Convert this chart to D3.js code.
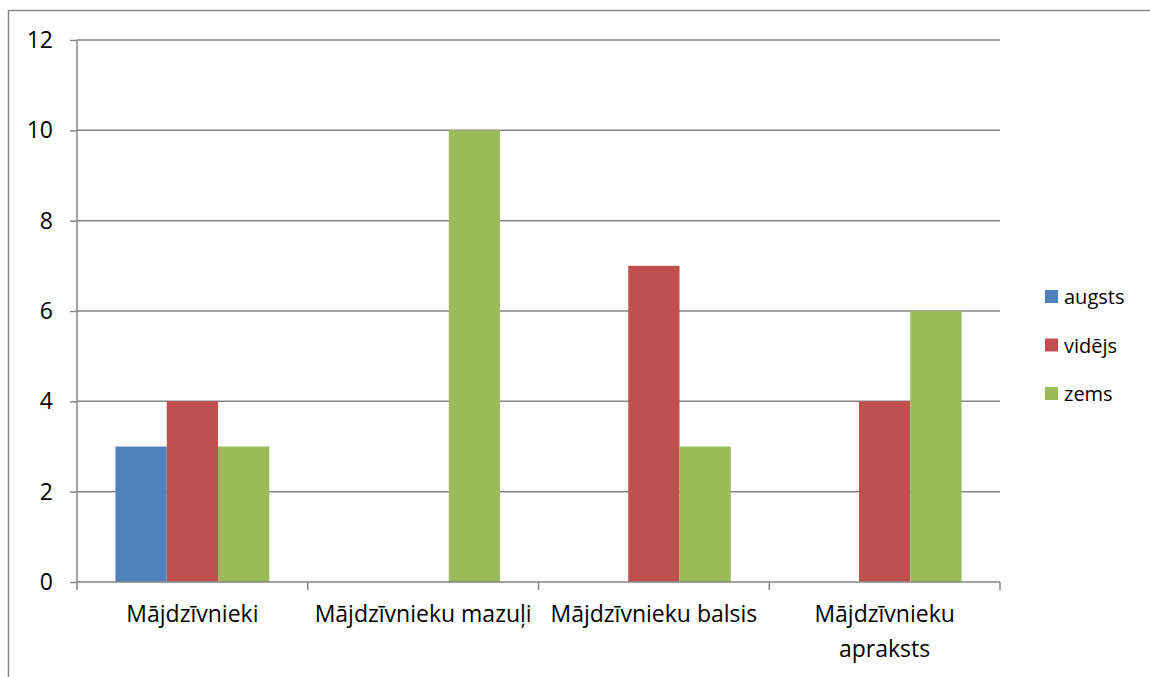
<!DOCTYPE html>
<html>
<head>
<meta charset="utf-8">
<title>Mājdzīvnieki</title>
<style>
  body { margin: 0; background: #fff; }
  text { font-family: "Open Sans", sans-serif; fill: #000; }
  .axis text { font-size: 23px; font-family: "Open Sans", sans-serif; }
  .legend text { font-size: 20px; }
</style>
<script src="https://d3js.org/d3.v7.min.js"></script>
</head>
<body>
<div id="chart"></div>
<script>
// data
var categories = ["Mājdzīvnieki", "Mājdzīvnieku mazuļi", "Mājdzīvnieku balsis", "Mājdzīvnieku apraksts"];
var seriesNames = ["augsts", "vidējs", "zems"];
var augsts = [3, 0, 0, 0];
var videjs = [4, 0, 7, 4];
var zems = [3, 10, 3, 6];
var yTicks = [0, 2, 4, 6, 8, 10, 12];
var colors = ["#4f81bd", "#c0504d", "#9bbb59"];

var values = [augsts, videjs, zems];

var W = 1150, H = 677;
var margin = {top: 40, left: 77, right: 150, bottom: 95};
var width = 1000 - margin.left, height = 582 - margin.top;

var svg = d3.select("#chart").append("svg")
  .attr("width", W).attr("height", H);

// outer frame
svg.append("rect")
  .attr("x", 8.5).attr("y", 10.5)
  .attr("width", 1160).attr("height", 700)
  .attr("fill", "none").attr("stroke", "#868686").attr("stroke-width", 1.5);

var g = svg.append("g").attr("transform", "translate(" + margin.left + "," + margin.top + ")");

var x = d3.scaleBand().domain(categories).range([0, width]);
var x1 = d3.scaleBand().domain(seriesNames).range([0, x.bandwidth()]).paddingOuter(0.75).paddingInner(0);
var y = d3.scaleLinear().domain([0, 12]).range([height, 0]);

// grid
g.append("g")
  .selectAll("line").data(yTicks.filter(function(d) { return d > 0; }))
  .enter().append("line")
  .attr("x1", 0).attr("x2", width)
  .attr("y1", function(d) { return y(d); }).attr("y2", function(d) { return y(d); })
  .attr("stroke", "#868686").attr("stroke-width", 1.5);

// bars
seriesNames.forEach(function(s, si) {
  g.append("g").selectAll("rect")
    .data(categories.map(function(c, i) { return {c: c, v: values[si][i]}; }).filter(function(d) { return d.v > 0; }))
    .enter().append("rect")
    .attr("x", function(d) { return x(d.c) + x1(s); })
    .attr("width", x1.bandwidth())
    .attr("y", function(d) { return y(d.v); })
    .attr("height", function(d) { return height - y(d.v); })
    .attr("fill", colors[si]);
});

// y axis
var yAxis = g.append("g").attr("class", "axis")
  .call(d3.axisLeft(y).tickValues(yTicks).tickSize(7).tickPadding(17));
yAxis.attr("font-size", null).attr("font-family", null);
yAxis.selectAll("line, path").attr("stroke", "#868686").attr("stroke-width", 1.5);
yAxis.select(".domain").attr("d", "M0," + y(12) + "V" + y(0));

// x axis
var xAxis = g.append("g").attr("class", "axis")
  .attr("transform", "translate(0," + height + ")")
  .call(d3.axisBottom(x).tickSize(0).tickPadding(24));
xAxis.attr("font-size", null).attr("font-family", null);
xAxis.select(".domain").attr("stroke", "#868686").attr("stroke-width", 1.5).attr("d", "M0,0H" + width);
xAxis.selectAll(".tick line").remove();
// category boundary ticks
xAxis.selectAll(".sep").data(d3.range(categories.length + 1))
  .enter().append("line")
  .attr("x1", function(i) { return i * x.step(); }).attr("x2", function(i) { return i * x.step(); })
  .attr("y1", 0).attr("y2", 8)
  .attr("stroke", "#868686").attr("stroke-width", 1.5);

// wrap long labels like Excel does
xAxis.selectAll(".tick text").each(function() {
  var t = d3.select(this), words = t.text().split(" "), lineH = 35;
  t.text(null);
  var line = [], tspan = t.append("tspan").attr("x", 0);
  words.forEach(function(w) {
    line.push(w);
    tspan.text(line.join(" "));
    if (tspan.node().getComputedTextLength() > x.bandwidth() - 6 && line.length > 1) {
      line.pop();
      tspan.text(line.join(" "));
      line = [w];
      tspan = t.append("tspan").attr("x", 0).attr("dy", lineH).text(w);
    }
  });
});

// legend
var legend = svg.append("g").attr("class", "legend");
var items = legend.selectAll("g").data(seriesNames).enter().append("g")
  .attr("transform", function(d, i) { return "translate(1045," + (297 + i * 48.5) + ")"; });
items.append("rect").attr("x", 0).attr("y", -7).attr("width", 13).attr("height", 13)
  .attr("fill", function(d, i) { return colors[i]; });
items.append("text").attr("x", 19).attr("dy", "0.35em").text(function(d) { return d; });
</script>
</body>
</html>
